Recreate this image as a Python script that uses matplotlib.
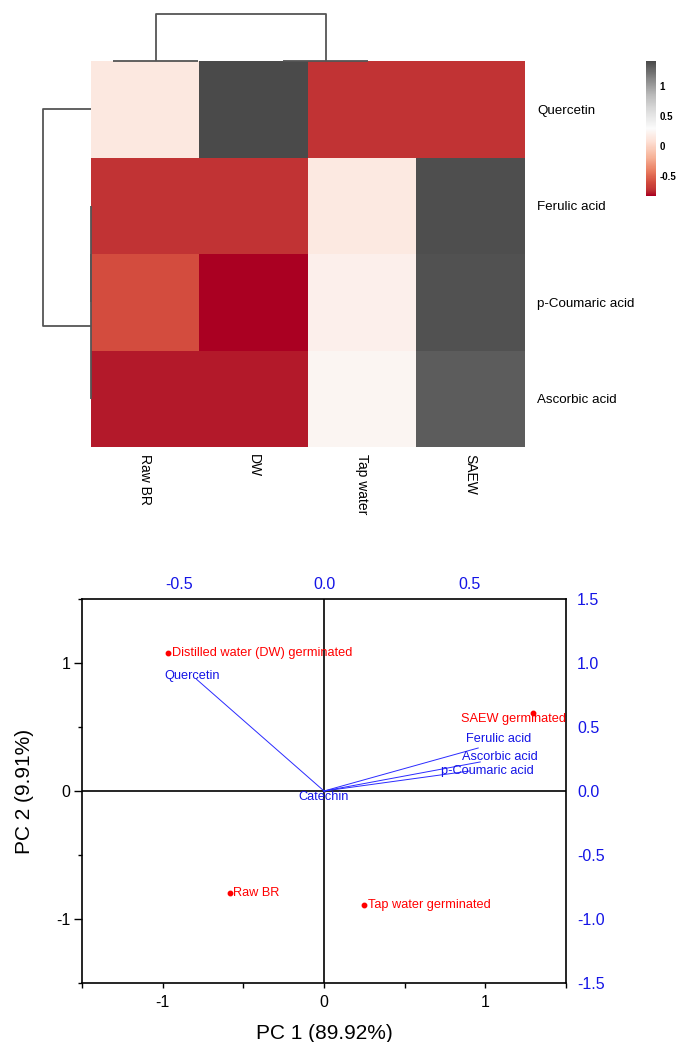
import numpy as np
import matplotlib
matplotlib.use('Agg')
import matplotlib.pyplot as plt
from matplotlib.colors import LinearSegmentedColormap

plt.rcParams['font.family'] = ['Liberation Sans', 'DejaVu Sans']
plt.rcParams['axes.unicode_minus'] = False

# ---------------- heatmap data ----------------
samples = ['Raw BR', 'DW', 'Tap water', 'SAEW']
compounds = ['Quercetin', 'Ferulic acid', 'p-Coumaric acid', 'Ascorbic acid']
z_quercetin = [0.14, 1.42, -0.72, -0.72]
z_ferulic = [-0.72, -0.72, 0.15, 1.40]
z_coumaric = [-0.60, -0.83, 0.20, 1.38]
z_ascorbic = [-0.78, -0.78, 0.25, 1.33]
cbar_ticks = [-0.5, 0, 0.5, 1]
cbar_labels = ['-0.5', '0', '0.5', '1']
# linkage: (child a, child b, height); leaves 0..n-1, new clusters numbered n, n+1, ...
col_linkage = [(0, 1, 0.0), (2, 3, 0.0), (4, 5, 1.0)]
row_linkage = [(1, 2, 0.0), (4, 3, 0.0), (0, 5, 1.0)]

# ---------------- PCA data ----------------
score_names = ['Distilled water (DW) germinated', 'SAEW germinated', 'Raw BR', 'Tap water germinated']
pc1 = [-0.965, 1.295, -0.584, 0.251]
pc2 = [1.08, 0.61, -0.80, -0.89]
load_names = ['Quercetin', 'Ferulic acid', 'Ascorbic acid', 'p-Coumaric acid', 'Catechin']
load1 = [-0.439, 0.531, 0.538, 0.500, 0.003]
load2 = [0.873, 0.336, 0.227, 0.156, -0.010]

W, H = 676, 1042
fig = plt.figure(figsize=(W / 100, H / 100), dpi=100)


def fax(x0, y0, x1, y1, **kw):
    """axes from pixel box (top-left origin)"""
    return fig.add_axes([x0 / W, 1 - y1 / H, (x1 - x0) / W, (y1 - y0) / H], **kw)


cmap = LinearSegmentedColormap.from_list('rdgy', [
    (0.0, '#aa0022'), (0.025, '#b6202c'), (0.05, '#c33535'), (0.10, '#d24b3d'),
    (0.18, '#e87a5e'), (0.29, '#f6b49a'), (0.40, '#fddfd3'), (0.5, '#fbfbfb'),
    (0.62, '#e0e0e0'), (0.75, '#bababa'), (0.87, '#878787'), (1.0, '#4a4a4a')])
vmin, vmax = -0.83, 1.42

# heatmap
axh = fax(91, 61, 525, 447)
Z = np.array([z_quercetin, z_ferulic, z_coumaric, z_ascorbic])
axh.pcolormesh(np.arange(len(samples) + 1), np.arange(len(compounds) + 1), Z,
               cmap=cmap, vmin=vmin, vmax=vmax)
axh.set_xlim(0, len(samples))
axh.set_ylim(len(compounds), 0)
for s in axh.spines.values():
    s.set_visible(False)
axh.yaxis.tick_right()
axh.set_yticks(np.arange(len(compounds)) + 0.5)
axh.set_yticklabels(compounds, fontsize=9.6)
axh.set_xticks(np.arange(len(samples)) + 0.5)
axh.set_xticklabels(samples, fontsize=10, rotation=270, va='top', ha='center')
axh.tick_params(axis='y', length=0, pad=9)
axh.tick_params(axis='x', length=0, pad=5)


def dendro(ax, linkage, nleaves, orient):
    pos = {i: i + 0.5 for i in range(nleaves)}
    hgt = {i: 0.0 for i in range(nleaves)}
    nid = nleaves
    for a, b, h in linkage:
        xa, xb = pos[a], pos[b]
        ha_, hb = hgt[a], hgt[b]
        xs = [xa, xa, xb, xb]
        ys = [ha_, h, h, hb]
        if orient == 'top':
            ax.plot(xs, ys, color='#555555', lw=1.3, clip_on=False, solid_capstyle='butt')
        else:
            ax.plot(ys, xs, color='#555555', lw=1.3, clip_on=False, solid_capstyle='butt')
        pos[nid] = (xa + xb) / 2
        hgt[nid] = h
        nid += 1
    ax.axis('off')


axc = fax(70.5, 14, 410.5, 61)
axc.set_xlim(0, 4)
axc.set_ylim(0, 1)
dendro(axc, col_linkage, len(samples), 'top')

axr = fax(43, 61, 91, 447)
axr.set_xlim(1, 0)
axr.set_ylim(4, 0)
dendro(axr, row_linkage, len(compounds), 'left')

# colorbar
axcb = fax(646, 61, 656, 196)
sm = matplotlib.cm.ScalarMappable(cmap=cmap, norm=matplotlib.colors.Normalize(vmin, vmax))
cb = fig.colorbar(sm, cax=axcb)
cb.outline.set_visible(False)
cb.set_ticks(cbar_ticks)
cb.set_ticklabels(cbar_labels)
axcb.tick_params(length=0, labelsize=7, pad=2.5)
for t in axcb.get_yticklabels():
    t.set_fontweight('bold')

# ---------------- PCA biplot ----------------
ax = fax(82, 599, 566, 983)
ax.set_xlim(-1.5, 1.5)
ax.set_ylim(-1.5, 1.5)
ax.axhline(0, color='black', lw=1.2)
ax.axvline(0, color='black', lw=1.2)
ax.plot(pc1, pc2, 'o', color='red', ms=3.2, zorder=5)
ax.set_xticks([-1, 0, 1])
ax.set_xticks([-1.5, -0.5, 0.5, 1.5], minor=True)
ax.set_yticks([-1, 0, 1])
ax.set_yticks([-1.5, -0.5, 0.5, 1.5], minor=True)
ax.set_xticklabels(['-1', '0', '1'])
ax.set_yticklabels(['-1', '0', '1'])
ax.tick_params(which='both', direction='out', labelsize=11.5, width=1.0, color='black')
ax.tick_params(axis='y', which='major', length=5.5, pad=3)
ax.tick_params(axis='y', which='minor', length=2.8)
ax.tick_params(axis='x', which='both', length=3.5, pad=5)
for s in ax.spines.values():
    s.set_linewidth(1.2)
ax.set_xlabel('PC 1 (89.92%)', fontsize=15, labelpad=10)
ax.set_ylabel('PC 2 (9.91%)', fontsize=15, labelpad=16)

# sample labels (placement)
score_label_pos = {
    'Distilled water (DW) germinated': (0.02, 0.0, 'left'),
    'SAEW germinated': (0.205, -0.045, 'right'),
    'Raw BR': (0.02, 0.0, 'left'),
    'Tap water germinated': (0.02, 0.0, 'left'),
}
for n, x, y in zip(score_names, pc1, pc2):
    dx, dy, ha = score_label_pos[n]
    ax.text(x + dx, y + dy, n, color='red', fontsize=9.2, ha=ha, va='center', zorder=6)

# loadings on top/right axes
ax2 = fax(82, 599, 566, 983, frameon=False)
ax2.set_xlim(-1.5 / 1.8, 1.5 / 1.8)
ax2.set_ylim(-1.5, 1.5)
ax2.patch.set_visible(False)
ax2.xaxis.tick_top()
ax2.yaxis.tick_right()
ax2.set_xticks([-0.5, 0.0, 0.5])
ax2.set_xticklabels(['-0.5', '0.0', '0.5'])
ax2.set_yticks([-1.5, -1.0, -0.5, 0.0, 0.5, 1.0, 1.5])
ax2.set_yticklabels(['-1.5', '-1.0', '-0.5', '0.0', '0.5', '1.0', '1.5'])
ax2.tick_params(length=0, labelsize=11.5, labelcolor='#1414e6')
ax2.tick_params(axis='x', pad=5)
ax2.tick_params(axis='y', pad=8)
for n, x, y in zip(load_names, load1, load2):
    ax2.plot([0, x], [0, y], color='#2a2aff', lw=0.7)
load_label_pos = {
    'Quercetin': (-0.109, 0.027, 'left'),
    'Ferulic acid': (-0.042, 0.074, 'left'),
    'Ascorbic acid': (-0.063, 0.041, 'left'),
    'p-Coumaric acid': (-0.097, 0.0, 'left'),
    'Catechin': (-0.003, -0.04, 'center'),
}
for n, x, y in zip(load_names, load1, load2):
    dx, dy, ha = load_label_pos[n]
    ax2.text(x + dx, y + dy, n, color='#1414e6', fontsize=9.2, ha=ha, va='center', zorder=6)

fig.savefig('out.png', dpi=100)
